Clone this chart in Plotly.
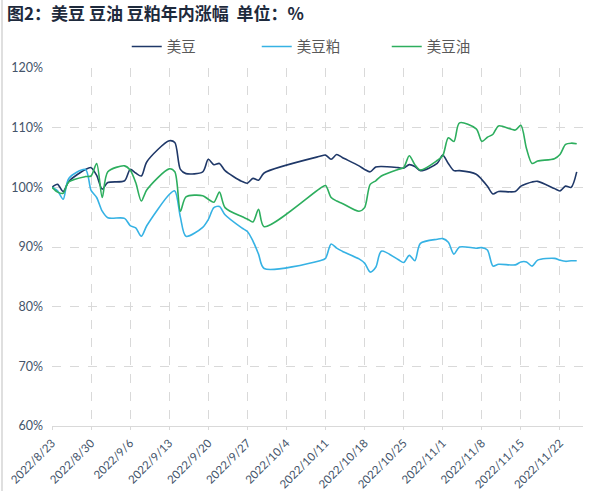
import plotly.graph_objects as go

dates = [
    "2022-08-23", "2022-08-24", "2022-08-25", "2022-08-26", "2022-08-29", "2022-08-30", "2022-08-31",
    "2022-09-01", "2022-09-02", "2022-09-05", "2022-09-06", "2022-09-07", "2022-09-08", "2022-09-09",
    "2022-09-13", "2022-09-14", "2022-09-15", "2022-09-16", "2022-09-19", "2022-09-20", "2022-09-21",
    "2022-09-22", "2022-09-23", "2022-09-26", "2022-09-27", "2022-09-28", "2022-09-29", "2022-09-30",
    "2022-10-10", "2022-10-11", "2022-10-12", "2022-10-13", "2022-10-14", "2022-10-17", "2022-10-18",
    "2022-10-19", "2022-10-20", "2022-10-21", "2022-10-24", "2022-10-25", "2022-10-26", "2022-10-27",
    "2022-10-28", "2022-10-31", "2022-11-01", "2022-11-02", "2022-11-03", "2022-11-04", "2022-11-07",
    "2022-11-08", "2022-11-09", "2022-11-10", "2022-11-11", "2022-11-14", "2022-11-15", "2022-11-16",
    "2022-11-17", "2022-11-18", "2022-11-21", "2022-11-22", "2022-11-23", "2022-11-24", "2022-11-25",
]

soybean = [
    100.0, 100.5, 99.3, 101.0, 103.0, 103.3, 102.0,
    99.7, 100.8, 101.1, 103.0, 102.4, 101.9, 104.3,
    107.8, 107.5, 103.0, 102.3, 102.6, 104.7, 103.8,
    104.0, 102.8, 101.0, 100.7, 101.5, 101.2, 102.4,
    105.2, 105.4, 104.7, 105.5, 105.0, 103.6, 103.0,
    102.6, 103.4, 103.5, 103.3, 103.2, 103.8, 103.5,
    102.8, 104.0, 105.4, 104.0, 102.8, 102.8, 102.2,
    101.3, 100.2, 98.9, 99.3, 99.3, 100.2, 100.6,
    100.9, 101.0, 99.8, 99.4, 100.2, 100.0, 102.6,
]

meal = [
    100.0, 99.4, 98.0, 101.5, 103.0, 99.5, 98.3,
    96.0, 94.9, 94.8, 93.6, 93.2, 91.8, 93.6,
    98.8, 99.4, 95.0, 91.8, 93.3, 94.6, 96.6,
    96.8, 95.4, 93.2, 92.6, 91.0, 88.8, 86.4,
    87.7, 88.1, 90.5, 89.8, 89.3, 88.0, 87.3,
    85.8, 86.6, 89.3, 87.9, 87.4, 88.6, 87.7,
    90.6, 91.3, 91.4, 90.8, 88.8, 90.0, 89.8,
    89.9, 89.5, 86.8, 87.1, 87.0, 87.5, 87.5,
    86.8, 87.8, 88.1, 87.8, 87.6, 87.7, 87.7,
]

oil = [
    100.0, 99.2, 99.0, 100.9, 101.8, 101.9, 104.0,
    98.3, 102.6, 103.6, 102.9, 100.8, 97.7, 99.6,
    103.1, 102.6, 96.0, 98.4, 98.6, 98.0, 97.5,
    99.2, 96.6, 95.1, 94.7, 94.2, 96.3, 93.4,
    99.8, 100.3, 98.3, 97.7, 97.3, 96.0, 96.6,
    100.5, 101.1, 101.9, 103.0, 103.3, 105.3, 103.8,
    102.9, 104.5, 105.3, 108.3, 107.7, 110.8, 109.8,
    107.7, 108.4, 108.9, 110.3, 109.6, 110.4, 106.5,
    104.0, 104.4, 104.8, 105.5, 107.2, 107.4, 107.3,
]

series_names = ["美豆", "美豆粕", "美豆油"]
series_colors = ["#1f3868", "#36b2e4", "#2dae5e"]
series_values = [soybean, meal, oil]

title_text = "图2：美豆 豆油 豆粕年内涨幅  单位：%"

fig = go.Figure()
for name, color, vals in zip(series_names, series_colors, series_values):
    fig.add_trace(go.Scatter(
        x=dates, y=vals, name=name, mode="lines",
        line=dict(color=color, width=1.6, shape="spline", smoothing=0.8),
    ))

tick_font = dict(family="Lato, 'Liberation Sans', sans-serif", size=12.5, color="#44546A")

fig.update_layout(
    width=603, height=491,
    margin=dict(l=52, r=20, t=68, b=65, autoexpand=False),
    paper_bgcolor="white", plot_bgcolor="white",
    title=dict(
        text=title_text, x=7 / 603, xanchor="left", xref="container",
        y=1 - 8 / 491, yanchor="top", yref="container",
        font=dict(family="Noto Sans CJK SC", size=17, color="#1e2a3c", weight="bold"),
    ),
    legend=dict(
        orientation="h", x=0.508, xanchor="center", y=1.06, yanchor="middle",
        font=dict(family="Noto Sans CJK SC", size=14.5, color="#595959"),
        entrywidth=85, entrywidthmode="pixels", itemwidth=30,
        bgcolor="rgba(0,0,0,0)",
    ),
    showlegend=True,
    xaxis=dict(
        type="date",
        range=["2022-08-23", "2022-11-26 03:00"],
        tickmode="linear", tick0="2022-08-23", dtick=7 * 86400000,
        tickformat="%Y/%-m/%-d", tickangle=-45,
        showgrid=True, gridcolor="#d9d9d9", griddash="dash", gridwidth=1,
        showline=True, linecolor="#d9d9d9", linewidth=1,
        ticks="outside", ticklen=3, tickcolor="#d9d9d9",
        ticklabelstandoff=2,
        zeroline=False,
        tickfont=dict(family="Lato, 'Liberation Sans', sans-serif", size=11.5, color="#44546A"),
        automargin=False,
    ),
    yaxis=dict(
        range=[60, 120], dtick=10, tick0=60, ticksuffix="%",
        showgrid=True, gridcolor="#d9d9d9", griddash="dash", gridwidth=1,
        showline=False, zeroline=False, ticks="",
        ticklabelstandoff=8,
        tickfont=tick_font,
        automargin=False,
    ),
    shapes=[
        dict(type="line", xref="paper", yref="paper",
             x0=-50 / 531, x1=-50 / 531, y0=-65 / 358, y1=68 / 358 + 1,
             line=dict(color="#bfbfbf", width=1)),
    ],
)

fig.write_html("out.html", config={"displayModeBar": False},
               post_script="document.body.style.margin='0px';")
